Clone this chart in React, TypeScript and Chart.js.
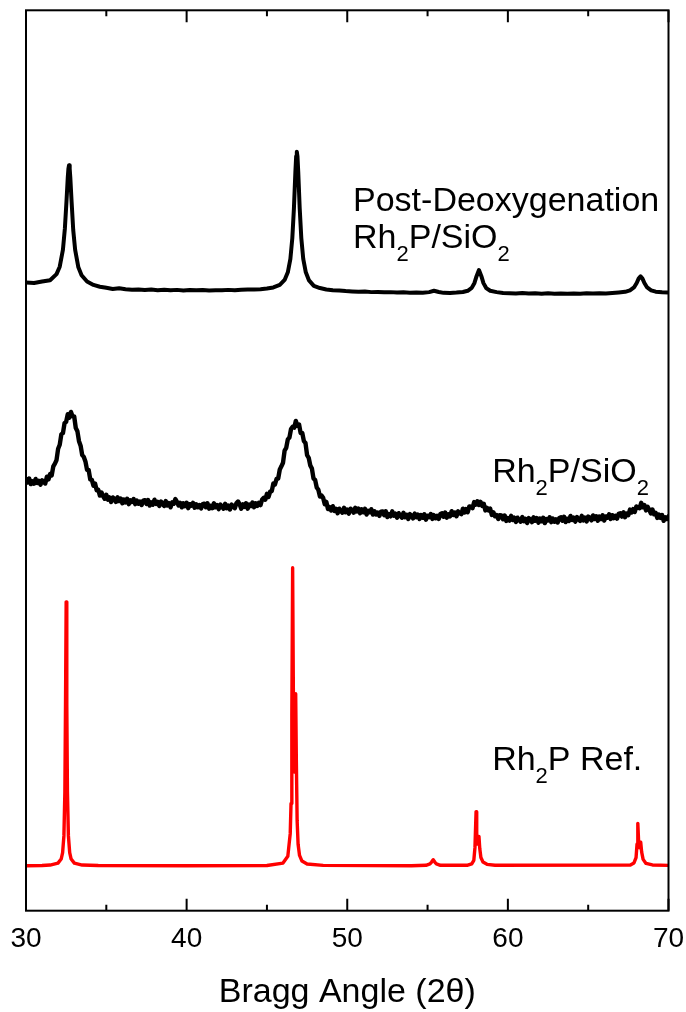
import React, { useEffect, useRef } from "react";
import { Chart, registerables } from "chart.js";

Chart.register(...registerables);

// ---------- data ----------
const xMin = 30;
const xMax = 70;
const majorTicks = [30, 40, 50, 60, 70];
const minorTicks = [35, 45, 55, 65];
const axisTitle = "Bragg Angle (2\u03b8)";

// Post-Deoxygenation Rh2P/SiO2 (top, black)
const postX = [
  30.0, 30.5, 31.0, 31.5, 31.9, 32.1, 32.3, 32.42, 32.52, 32.6, 32.64, 32.68, 32.72, 32.76, 32.84, 32.94, 33.06, 33.26,
  33.46, 33.8, 34.2, 34.6, 35.0, 35.4, 35.8, 36.2, 36.6, 37.0, 37.4, 37.8, 38.2, 38.6, 39.0, 39.4, 39.8, 40.2, 40.6,
  41.0, 41.4, 41.8, 42.2, 42.6, 43.0, 43.4, 43.8, 44.2, 44.6, 45.0, 45.4, 45.8, 46.1, 46.3, 46.46, 46.58, 46.68,
  46.77, 46.82, 46.86, 46.9, 46.95, 47.04, 47.14, 47.26, 47.42, 47.62, 47.92, 48.3, 48.7, 49.1, 49.5, 49.9, 50.3,
  50.7, 51.1, 51.5, 51.9, 52.3, 52.7, 53.1, 53.5, 53.9, 54.3, 54.7, 55.1, 55.4, 55.7, 56.0, 56.4, 56.8, 57.2, 57.5,
  57.75, 57.92, 58.05, 58.2, 58.35, 58.48, 58.65, 58.9, 59.3, 59.7, 60.1, 60.5, 60.9, 61.3, 61.7, 62.1, 62.5, 62.9,
  63.3, 63.7, 64.1, 64.5, 64.9, 65.3, 65.7, 66.1, 66.5, 66.9, 67.3, 67.6, 67.85, 68.02, 68.14, 68.26, 68.38, 68.5,
  68.67, 68.92, 69.2, 69.6, 70.0,
];
const postY = [
  69.76, 69.72, 69.88, 70.02, 70.7, 71.52, 73.42, 75.77, 78.78, 81.42, 82.4, 82.8, 82.4, 81.4, 78.7, 75.6, 73.39,
  71.45, 70.58, 69.88, 69.5, 69.3, 69.18, 69.05, 69.12, 69.02, 68.97, 69.0, 68.93, 68.98, 68.92, 68.96, 68.9, 68.95,
  68.88, 68.93, 68.9, 68.94, 68.88, 68.92, 68.9, 68.95, 68.92, 68.97, 68.98, 69.0, 69.02, 69.1, 69.22, 69.5, 70.05,
  70.9, 72.4, 74.7, 78.0, 82.0, 83.8, 84.3, 83.8, 82.0, 78.0, 74.7, 72.4, 70.9, 70.0, 69.4, 69.15, 69.0, 68.92, 68.88,
  68.82, 68.78, 68.74, 68.76, 68.7, 68.72, 68.68, 68.7, 68.65, 68.68, 68.64, 68.66, 68.62, 68.7, 68.85, 68.72, 68.62,
  68.6, 68.65, 68.72, 68.85, 69.17, 69.72, 70.47, 71.15, 70.47, 69.7, 69.15, 68.85, 68.7, 68.6, 68.58, 68.55, 68.6,
  68.54, 68.58, 68.53, 68.57, 68.52, 68.56, 68.52, 68.56, 68.53, 68.57, 68.54, 68.58, 68.55, 68.6, 68.66, 68.73,
  68.9, 69.22, 69.72, 70.2, 70.45, 70.2, 69.72, 69.22, 68.9, 68.75, 68.68, 68.65,
];

// As-synthesized Rh2P/SiO2 (middle, black, noisy), sampled every 0.1 degree
const asX = [
  30.0, 30.1, 30.2, 30.3, 30.4, 30.5, 30.6, 30.7, 30.8, 30.9, 31.0, 31.1, 31.2, 31.3, 31.4, 31.5, 31.6, 31.7, 31.8, 31.9,
  32.0, 32.1, 32.2, 32.3, 32.4, 32.5, 32.6, 32.7, 32.8, 32.9, 33.0, 33.1, 33.2, 33.3, 33.4, 33.5, 33.6, 33.7, 33.8, 33.9,
  34.0, 34.1, 34.2, 34.3, 34.4, 34.5, 34.6, 34.7, 34.8, 34.9, 35.0, 35.1, 35.2, 35.3, 35.4, 35.5, 35.6, 35.7, 35.8, 35.9,
  36.0, 36.1, 36.2, 36.3, 36.4, 36.5, 36.6, 36.7, 36.8, 36.9, 37.0, 37.1, 37.2, 37.3, 37.4, 37.5, 37.6, 37.7, 37.8, 37.9,
  38.0, 38.1, 38.2, 38.3, 38.4, 38.5, 38.6, 38.7, 38.8, 38.9, 39.0, 39.1, 39.2, 39.3, 39.4, 39.5, 39.6, 39.7, 39.8, 39.9,
  40.0, 40.1, 40.2, 40.3, 40.4, 40.5, 40.6, 40.7, 40.8, 40.9, 41.0, 41.1, 41.2, 41.3, 41.4, 41.5, 41.6, 41.7, 41.8, 41.9,
  42.0, 42.1, 42.2, 42.3, 42.4, 42.5, 42.6, 42.7, 42.8, 42.9, 43.0, 43.1, 43.2, 43.3, 43.4, 43.5, 43.6, 43.7, 43.8, 43.9,
  44.0, 44.1, 44.2, 44.3, 44.4, 44.5, 44.6, 44.7, 44.8, 44.9, 45.0, 45.1, 45.2, 45.3, 45.4, 45.5, 45.6, 45.7, 45.8, 45.9,
  46.0, 46.1, 46.2, 46.3, 46.4, 46.5, 46.6, 46.7, 46.8, 46.9, 47.0, 47.1, 47.2, 47.3, 47.4, 47.5, 47.6, 47.7, 47.8, 47.9,
  48.0, 48.1, 48.2, 48.3, 48.4, 48.5, 48.6, 48.7, 48.8, 48.9, 49.0, 49.1, 49.2, 49.3, 49.4, 49.5, 49.6, 49.7, 49.8, 49.9,
  50.0, 50.1, 50.2, 50.3, 50.4, 50.5, 50.6, 50.7, 50.8, 50.9, 51.0, 51.1, 51.2, 51.3, 51.4, 51.5, 51.6, 51.7, 51.8, 51.9,
  52.0, 52.1, 52.2, 52.3, 52.4, 52.5, 52.6, 52.7, 52.8, 52.9, 53.0, 53.1, 53.2, 53.3, 53.4, 53.5, 53.6, 53.7, 53.8, 53.9,
  54.0, 54.1, 54.2, 54.3, 54.4, 54.5, 54.6, 54.7, 54.8, 54.9, 55.0, 55.1, 55.2, 55.3, 55.4, 55.5, 55.6, 55.7, 55.8, 55.9,
  56.0, 56.1, 56.2, 56.3, 56.4, 56.5, 56.6, 56.7, 56.8, 56.9, 57.0, 57.1, 57.2, 57.3, 57.4, 57.5, 57.6, 57.7, 57.8, 57.9,
  58.0, 58.1, 58.2, 58.3, 58.4, 58.5, 58.6, 58.7, 58.8, 58.9, 59.0, 59.1, 59.2, 59.3, 59.4, 59.5, 59.6, 59.7, 59.8, 59.9,
  60.0, 60.1, 60.2, 60.3, 60.4, 60.5, 60.6, 60.7, 60.8, 60.9, 61.0, 61.1, 61.2, 61.3, 61.4, 61.5, 61.6, 61.7, 61.8, 61.9,
  62.0, 62.1, 62.2, 62.3, 62.4, 62.5, 62.6, 62.7, 62.8, 62.9, 63.0, 63.1, 63.2, 63.3, 63.4, 63.5, 63.6, 63.7, 63.8, 63.9,
  64.0, 64.1, 64.2, 64.3, 64.4, 64.5, 64.6, 64.7, 64.8, 64.9, 65.0, 65.1, 65.2, 65.3, 65.4, 65.5, 65.6, 65.7, 65.8, 65.9,
  66.0, 66.1, 66.2, 66.3, 66.4, 66.5, 66.6, 66.7, 66.8, 66.9, 67.0, 67.1, 67.2, 67.3, 67.4, 67.5, 67.6, 67.7, 67.8, 67.9,
  68.0, 68.1, 68.2, 68.3, 68.4, 68.5, 68.6, 68.7, 68.8, 68.9, 69.0, 69.1, 69.2, 69.3, 69.4, 69.5, 69.6, 69.7, 69.8, 69.9,
  70.0,
];
const asY = [
  47.95, 47.55, 48.0, 47.38, 47.7, 47.42, 47.95, 47.5, 47.75, 47.3,
  47.8, 47.6, 47.45, 48.2, 47.9, 48.5, 48.35, 49.35, 49.65, 50.05,
  51.3, 51.75, 52.9, 53.05, 54.15, 54.3, 55.15, 54.75, 55.4, 54.9,
  54.9, 53.6, 53.25, 52.15, 51.65, 50.6, 50.4, 49.9, 48.95, 48.95,
  47.9, 47.85, 47.2, 47.45, 46.7, 46.75, 46.1, 46.45, 46.05, 45.75,
  46.2, 45.65, 45.9, 45.4, 45.9, 45.73, 45.4, 45.92, 45.5, 45.78,
  45.25, 45.67, 45.35, 45.75, 45.15, 45.58, 45.4, 45.72, 45.15, 45.55,
  45.2, 45.43, 45.05, 45.55, 45.6, 45.17, 45.6, 45.0, 45.35, 45.1,
  45.65, 45.18, 45.4, 44.95, 45.45, 45.17, 44.95, 45.5, 45.0, 45.28,
  44.8, 45.35, 45.2, 45.72, 45.4, 45.0, 45.3, 44.8, 45.25, 44.93,
  45.31, 44.7, 45.15, 44.97, 45.3, 44.75, 45.15, 44.8, 45.05, 44.68,
  45.15, 45.2, 44.8, 45.25, 44.65, 44.97, 44.7, 45.25, 44.8, 45.05,
  44.6, 45.1, 44.85, 44.65, 45.2, 44.7, 45.0, 44.55, 45.1, 44.95,
  44.7, 45.25, 45.45, 45.15, 44.65, 45.13, 44.85, 45.25, 44.65, 45.1,
  44.95, 45.33, 44.81, 45.25, 44.95, 45.3, 45.05, 45.67, 45.85, 45.65,
  46.3, 45.95, 46.55, 46.6, 47.45, 47.35, 47.95, 48.0, 49.0, 49.35,
  49.75, 51.1, 51.4, 52.35, 52.55, 53.5, 53.75, 53.65, 54.4, 53.85,
  54.0, 53.05, 53.05, 52.15, 51.95, 50.6, 50.3, 49.45, 49.1, 48.0,
  47.85, 47.0, 46.75, 46.0, 46.1, 45.85, 45.15, 45.4, 44.6, 44.83,
  44.45, 44.93, 44.4, 44.63, 44.15, 44.65, 44.4, 44.2, 44.75, 44.25,
  44.55, 44.1, 44.65, 44.5, 44.2, 44.75, 44.35, 44.65, 44.15, 44.57,
  44.25, 44.63, 44.0, 44.42, 44.25, 44.58, 44.0, 44.37, 44.0, 44.23,
  43.85, 44.32, 44.35, 43.93, 44.35, 43.72, 44.05, 43.8, 44.35, 43.88,
  44.1, 43.65, 44.15, 43.87, 43.65, 44.2, 43.7, 43.98, 43.5, 44.05,
  43.9, 43.57, 44.1, 43.7, 44.0, 43.5, 43.95, 43.64, 44.03, 43.42,
  43.86, 43.71, 44.06, 43.51, 43.93, 43.59, 43.85, 43.52, 44.05, 44.13,
  43.75, 44.22, 43.65, 44.03, 43.8, 44.37, 43.95, 44.23, 43.8, 44.35,
  44.15, 44.03, 44.65, 44.22, 44.6, 44.25, 44.9, 44.87, 44.7, 45.38,
  45.1, 45.48, 45.05, 45.4, 44.95, 45.2, 44.45, 44.75, 44.45, 44.65,
  43.95, 44.25, 43.8, 43.95, 43.5, 43.92, 43.9, 43.47, 43.9, 43.28,
  43.6, 43.32, 43.85, 43.4, 43.65, 43.18, 43.65, 43.4, 43.2, 43.72,
  43.25, 43.52, 43.05, 43.6, 43.45, 43.15, 43.7, 43.3, 43.6, 43.1,
  43.55, 43.25, 43.65, 43.05, 43.5, 43.35, 43.7, 43.15, 43.55, 43.2,
  43.47, 43.12, 43.62, 43.69, 43.3, 43.76, 43.16, 43.52, 43.28, 43.84,
  43.4, 43.65, 43.21, 43.72, 43.47, 43.29, 43.85, 43.35, 43.66, 43.22,
  43.78, 43.64, 43.35, 43.9, 43.5, 43.81, 43.32, 43.78, 43.5, 43.91,
  43.33, 43.79, 43.65, 44.02, 43.5, 43.93, 43.6, 43.87, 43.55, 44.08,
  44.15, 43.77, 44.25, 43.7, 44.1, 43.92, 44.55, 44.22, 44.6, 44.28,
  44.9, 44.77, 44.7, 45.3, 44.8, 45.05, 44.45, 44.85, 44.55, 44.13,
  44.55, 44.02, 44.2, 43.62, 44.0, 43.63, 43.95, 43.3, 43.7, 43.5,
  43.8,
];

// Rh2P reference pattern (bottom, red)
const refX = [
  30.0, 31.0, 31.5, 31.99, 32.19, 32.28, 32.36, 32.42, 32.46, 32.5, 32.54, 32.58, 32.64, 32.72, 32.81, 33.01, 33.5,
  34.5, 40.0, 45.0, 46.0, 46.3, 46.45, 46.5, 46.55, 46.6, 46.65, 46.7, 46.75, 46.79, 46.83, 46.88, 46.94, 47.03, 47.18,
  47.5, 48.5, 54.0, 54.9, 55.15, 55.25, 55.35, 55.45, 55.55, 55.8, 57.5, 57.75, 57.88, 57.95, 58.02, 58.06, 58.1,
  58.15, 58.2, 58.25, 58.32, 58.45, 58.7, 59.2, 67.6, 67.85, 67.98, 68.04, 68.09, 68.14, 68.19, 68.27, 68.33, 68.42,
  68.6, 69.0, 70.0,
];
const refY = [
  5.0, 5.02, 5.07, 5.28, 5.74, 6.44, 8.31, 13.2, 22.9, 34.3, 22.9, 13.2, 8.31, 6.44, 5.74, 5.28, 5.07, 5.02, 5.0,
  5.02, 5.29, 6.04, 8.56, 11.9, 21.7, 38.1, 22.9, 15.4, 18.6, 24.1, 16.8, 10.0, 7.38, 6.14, 5.51, 5.18, 5.03, 5.0,
  5.04, 5.2, 5.4, 5.66, 5.4, 5.2, 5.04, 5.05, 5.2, 5.6, 7.0, 11.0, 8.6, 7.4, 7.6, 8.25, 6.9, 5.9, 5.4, 5.15, 5.05,
  5.06, 5.3, 5.9, 7.4, 9.7, 7.7, 7.0, 7.6, 6.5, 5.7, 5.25, 5.08, 5.03,
];

// annotations: text parts (sub = subscript), anchor in data coords (x, baseline y)
const labelPostLine1 = [{ t: "Post-Deoxygenation", sub: false }];
const labelPostLine2 = [
  { t: "Rh", sub: false }, { t: "2", sub: true }, { t: "P/SiO", sub: false }, { t: "2", sub: true },
];
const labelAsSynth = [
  { t: "Rh", sub: false }, { t: "2", sub: true }, { t: "P/SiO", sub: false }, { t: "2", sub: true },
];
const labelRef = [{ t: "Rh", sub: false }, { t: "2", sub: true }, { t: "P Ref.", sub: false }];
const labelAnchors = [
  { parts: labelPostLine1, x: 50.36, y: 77.7 },
  { parts: labelPostLine2, x: 50.36, y: 73.6 },
  { parts: labelAsSynth, x: 59.02, y: 47.6 },
  { parts: labelRef, x: 59.02, y: 15.6 },
];

const FONT = "'Liberation Sans', Arial, Helvetica, sans-serif";

function toPoints(xs: number[], ys: number[]) {
  return xs.map((x, i) => ({ x, y: ys[i] }));
}

const overlayPlugin = {
  id: "overlay",
  afterDraw(chart: any) {
    const { ctx, chartArea: a, scales } = chart;
    const xs = scales.x;
    const ys = scales.y;
    ctx.save();
    ctx.strokeStyle = "#000";
    ctx.lineWidth = 2;
    ctx.strokeRect(a.left, a.top, a.right - a.left, a.bottom - a.top);
    const tick = (v: number, len: number) => {
      const px = xs.getPixelForValue(v);
      ctx.beginPath();
      ctx.moveTo(px, a.bottom);
      ctx.lineTo(px, a.bottom - len);
      ctx.moveTo(px, a.top);
      ctx.lineTo(px, a.top + len);
      ctx.stroke();
    };
    majorTicks.forEach((v) => tick(v, 12));
    minorTicks.forEach((v) => tick(v, 6));

    ctx.fillStyle = "#000";
    ctx.textBaseline = "alphabetic";
    ctx.textAlign = "left";
    labelAnchors.forEach((lab) => {
      let px = xs.getPixelForValue(lab.x);
      const py = ys.getPixelForValue(lab.y);
      lab.parts.forEach((p) => {
        ctx.font = p.sub ? `22px ${FONT}` : `34px ${FONT}`;
        ctx.fillText(p.t, px, p.sub ? py + 13 : py);
        px += ctx.measureText(p.t).width;
      });
    });
    ctx.restore();
  },
};

export default function App() {
  const ref = useRef<HTMLCanvasElement | null>(null);
  useEffect(() => {
    if (!ref.current) return;
    const lineStyle = { pointRadius: 0, tension: 0, borderJoinStyle: "round" as const, borderCapStyle: "round" as const };
    const chart = new Chart(ref.current, {
      type: "line",
      data: {
        datasets: [
          { label: "Post-Deoxygenation Rh2P/SiO2", data: toPoints(postX, postY), borderColor: "#000", borderWidth: 4, ...lineStyle },
          { label: "Rh2P/SiO2", data: toPoints(asX, asY), borderColor: "#000", borderWidth: 4.4, ...lineStyle },
          { label: "Rh2P Ref.", data: toPoints(refX, refY), borderColor: "#ff0000", borderWidth: 3.4, ...lineStyle },
        ],
      },
      options: {
        animation: false,
        responsive: true,
        maintainAspectRatio: false,
        devicePixelRatio: 1,
        layout: { padding: { left: 26, right: 17.5, top: 10.3, bottom: 0 } },
        plugins: { legend: { display: false }, tooltip: { enabled: false } },
        scales: {
          x: {
            type: "linear",
            position: "bottom",
            min: xMin,
            max: xMax,
            grid: { display: false, drawTicks: false },
            border: { display: false },
            ticks: {
              stepSize: 10,
              color: "#000",
              padding: 12,
              font: { family: FONT, size: 28 },
              callback: (v: any) => (majorTicks.includes(Number(v)) ? String(v) : ""),
            },
            title: {
              display: true,
              text: axisTitle,
              color: "#000",
              font: { family: FONT, size: 34, lineHeight: 1 },
              padding: { top: 0, bottom: 2 },
            },
            afterFit: (s: any) => {
              s.height = 101.3;
              s.paddingLeft = 0;
              s.paddingRight = 0;
            },
          },
          y: { display: false, min: 0, max: 100 },
        },
      },
      plugins: [overlayPlugin],
    });
    return () => chart.destroy();
  }, []);
  return (
    <div style={{ position: "absolute", left: 0, top: 0, width: 686, height: 1012, background: "#fff" }}>
      <canvas ref={ref} />
    </div>
  );
}
